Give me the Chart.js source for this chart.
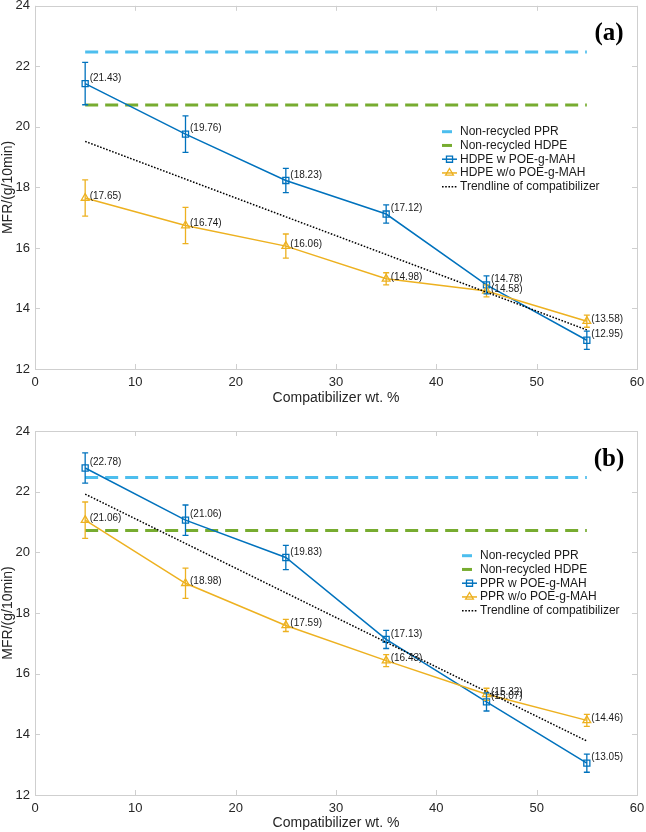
<!DOCTYPE html>
<html><head><meta charset="utf-8">
<script src="https://cdn.jsdelivr.net/npm/chart.js@4.4.1/dist/chart.umd.min.js"></script>
<style>
body{margin:0;background:#fff;}
#wrap{position:relative;width:646px;height:832px;background:#fff;}
canvas{position:absolute;left:0;}
</style>
</head><body>
<div id="wrap">
<canvas id="ca" width="646" height="416" style="top:0"></canvas>
<canvas id="cb" width="646" height="416" style="top:416px"></canvas>
</div>
<script>
// ---- data ----
const compatibilizer = [5, 15, 25, 35, 45, 55];
const refX = [5, 55];
const nonRecycledPPR = [22.47, 22.47];
const nonRecycledHDPE = [20.72, 20.72];

// panel (a)
const hdpeWith = [21.43, 19.76, 18.23, 17.12, 14.78, 12.95];
const hdpeWithErr = [0.7, 0.6, 0.4, 0.3, 0.3, 0.3];
const hdpeWithout = [17.65, 16.74, 16.06, 14.98, 14.58, 13.58];
const hdpeWithoutErr = [0.6, 0.6, 0.4, 0.2, 0.2, 0.2];
const trendA = [19.52, 13.29];

// panel (b)
const pprWith = [22.78, 21.06, 19.83, 17.13, 15.07, 13.05];
const pprWithErr = [0.5, 0.5, 0.4, 0.3, 0.3, 0.3];
const pprWithout = [21.06, 18.98, 17.59, 16.43, 15.32, 14.46];
const pprWithoutErr = [0.6, 0.5, 0.2, 0.2, 0.2, 0.2];
const trendB = [21.92, 13.78];

const xTickValues = [0, 10, 20, 30, 40, 50, 60];
const yTickValues = [12, 14, 16, 18, 20, 22, 24];

// ---- styling ----
const FONT = '"Liberation Sans", Arial, Helvetica, sans-serif';
const TEXT = '#262626';
const AXIS = '#cfcfcf';
const C_PPR = '#4DBEEE', C_HDPE = '#77AC30', C_W = '#0072BD', C_WO = '#EDB120';

Chart.defaults.font.family = FONT;
Chart.defaults.color = TEXT;

function pts(xs, ys) { return xs.map((x, i) => ({ x: x, y: ys[i] })); }

function drawMarker(ctx, style, x, y, r) {
  ctx.beginPath();
  if (style === 'rect') {
    const s = r * Math.SQRT1_2;
    ctx.rect(x - s, y - s, 2 * s, 2 * s);
  } else {
    ctx.moveTo(x, y - r);
    ctx.lineTo(x + r * Math.sin(2 * Math.PI / 3), y + r / 2);
    ctx.lineTo(x - r * Math.sin(2 * Math.PI / 3), y + r / 2);
    ctx.closePath();
  }
  ctx.stroke();
}

function zeroPad(s) { s.paddingTop = 0; s.paddingBottom = 0; s.paddingLeft = 0; s.paddingRight = 0; }

const decor = {
  id: 'decor',
  afterDatasetsDraw(chart, args, o) {
    const ctx = chart.ctx, a = chart.chartArea;
    const xs = chart.scales.x, ys = chart.scales.y;
    // error bars + value labels
    chart.data.datasets.forEach((ds, i) => {
      if (!ds.errors) return;
      const meta = chart.getDatasetMeta(i);
      ctx.save();
      ctx.strokeStyle = ds.borderColor;
      ctx.lineWidth = 1.3;
      meta.data.forEach((p, j) => {
        const v = ds.data[j].y, e = ds.errors[j];
        const y1 = ys.getPixelForValue(v + e), y2 = ys.getPixelForValue(v - e);
        ctx.beginPath();
        ctx.moveTo(p.x, y1); ctx.lineTo(p.x, y2);
        ctx.moveTo(p.x - 3, y1); ctx.lineTo(p.x + 3, y1);
        ctx.moveTo(p.x - 3, y2); ctx.lineTo(p.x + 3, y2);
        ctx.stroke();
      });
      ctx.fillStyle = '#1a1a1a';
      ctx.font = '10px ' + FONT;
      ctx.textBaseline = 'middle';
      ctx.textAlign = 'left';
      meta.data.forEach((p, j) => {
        ctx.fillText('(' + ds.data[j].y.toFixed(2) + ')', p.x + 4.5, p.y + ds.labelDy);
      });
      ctx.restore();
    });
    // box + inside ticks
    ctx.save();
    ctx.strokeStyle = AXIS;
    ctx.lineWidth = 1;
    ctx.strokeRect(Math.round(a.left) + 0.5, Math.round(a.top) + 0.5, Math.round(a.right - a.left), Math.round(a.bottom - a.top));
    ctx.beginPath();
    xTickValues.forEach(v => {
      const px = Math.round(xs.getPixelForValue(v)) + 0.5;
      ctx.moveTo(px, a.bottom); ctx.lineTo(px, a.bottom - 5);
      ctx.moveTo(px, a.top); ctx.lineTo(px, a.top + 5);
    });
    yTickValues.forEach(v => {
      const py = Math.round(ys.getPixelForValue(v)) + 0.5;
      ctx.moveTo(a.left, py); ctx.lineTo(a.left + 5, py);
      ctx.moveTo(a.right, py); ctx.lineTo(a.right - 5, py);
    });
    ctx.stroke();
    ctx.restore();
    // legend
    const L = o.legend;
    ctx.save();
    ctx.font = '12px ' + FONT;
    ctx.textBaseline = 'middle';
    ctx.textAlign = 'left';
    L.items.forEach((it, k) => {
      const y = L.y + k * L.step;
      const x0 = L.x, x1 = L.x + 15;
      ctx.strokeStyle = it.color;
      if (it.kind === 'dash') {
        ctx.lineWidth = 3;
        ctx.beginPath(); ctx.moveTo(x0, y); ctx.lineTo(x0 + 10, y); ctx.stroke();
      } else if (it.kind === 'dot') {
        ctx.lineWidth = 1.5;
        ctx.setLineDash([1.6, 1.6]);
        ctx.beginPath(); ctx.moveTo(x0, y); ctx.lineTo(x1, y); ctx.stroke();
        ctx.setLineDash([]);
      } else {
        ctx.lineWidth = 1.5;
        ctx.beginPath(); ctx.moveTo(x0, y); ctx.lineTo(x1, y); ctx.stroke();
        ctx.lineWidth = 1.3;
        drawMarker(ctx, it.marker, (x0 + x1) / 2, y, it.marker === 'rect' ? 4.3 : 4.5);
      }
      ctx.fillStyle = '#1a1a1a';
      ctx.fillText(it.label, x1 + 3, y);
    });
    // panel tag
    ctx.font = 'bold 25px "Liberation Serif", "Times New Roman", serif';
    ctx.fillStyle = '#000';
    ctx.textAlign = 'center';
    ctx.fillText(o.tag, o.tagX, o.tagY);
    ctx.restore();
  }
};

function makeChart(id, cfg) {
  const datasets = [
    { label: 'Trendline of compatibilizer', data: pts(refX, cfg.trend), borderColor: '#000', borderWidth: 1.5,
      borderDash: [1.6, 1.6], pointRadius: 0, showLine: true, fill: false },
    { label: cfg.woLabel, data: pts(compatibilizer, cfg.wo), errors: cfg.woErr, labelDy: -2,
      borderColor: C_WO, backgroundColor: 'rgba(0,0,0,0)', borderWidth: 1.5, pointStyle: 'triangle',
      pointRadius: 4.5, pointBorderWidth: 1.3, showLine: true, fill: false },
    { label: cfg.wLabel, data: pts(compatibilizer, cfg.w), errors: cfg.wErr, labelDy: -5.5,
      borderColor: C_W, backgroundColor: 'rgba(0,0,0,0)', borderWidth: 1.5, pointStyle: 'rect',
      pointRadius: 4.3, pointBorderWidth: 1.3, showLine: true, fill: false },
    { label: 'Non-recycled HDPE', data: pts(refX, nonRecycledHDPE), borderColor: C_HDPE, borderWidth: 3,
      borderDash: [13, 7], pointRadius: 0, showLine: true, fill: false },
    { label: 'Non-recycled PPR', data: pts(refX, nonRecycledPPR), borderColor: C_PPR, borderWidth: 3,
      borderDash: [13, 7], pointRadius: 0, showLine: true, fill: false }
  ];
  return new Chart(document.getElementById(id), {
    type: 'scatter',
    data: { datasets: datasets },
    plugins: [decor],
    options: {
      responsive: false,
      animation: false,
      devicePixelRatio: 1,
      events: [],
      layout: { padding: { top: cfg.top, right: 9, left: 0, bottom: 0 } },
      plugins: {
        legend: { display: false },
        tooltip: { enabled: false },
        decor: {
          tag: cfg.tag, tagX: 609, tagY: cfg.tagY,
          legend: {
            x: cfg.legX, y: cfg.legY, step: 13.75,
            items: [
              { label: 'Non-recycled PPR', color: C_PPR, kind: 'dash' },
              { label: 'Non-recycled HDPE', color: C_HDPE, kind: 'dash' },
              { label: cfg.wLabel, color: C_W, kind: 'marker', marker: 'rect' },
              { label: cfg.woLabel, color: C_WO, kind: 'marker', marker: 'triangle' },
              { label: 'Trendline of compatibilizer', color: '#000', kind: 'dot' }
            ]
          }
        }
      },
      scales: {
        x: {
          type: 'linear', min: 0, max: 60,
          afterFit: s => { s.height = cfg.xAxisH; zeroPad(s); },
          afterBuildTicks: s => { s.ticks = xTickValues.map(v => ({ value: v })); },
          ticks: { padding: cfg.xTickPad, font: { size: 13 }, color: TEXT, maxRotation: 0 },
          grid: { display: false, drawTicks: false },
          border: { display: false },
          title: { display: true, text: 'Compatibilizer wt. %', font: { size: 14 }, color: TEXT,
                   padding: { top: 0, bottom: cfg.xTitlePad } }
        },
        y: {
          type: 'linear', min: 12, max: 24,
          afterFit: s => { s.width = 35; zeroPad(s); },
          afterBuildTicks: s => { s.ticks = yTickValues.map(v => ({ value: v })); },
          ticks: { padding: 5, font: { size: 13 }, color: TEXT },
          grid: { display: false, drawTicks: false },
          border: { display: false },
          title: { display: true, text: 'MFR/(g/10min)', font: { size: 14 }, color: TEXT,
                   padding: { top: 0, bottom: 0 } }
        }
      }
    }
  });
}

makeChart('ca', {
  w: hdpeWith, wErr: hdpeWithErr, wo: hdpeWithout, woErr: hdpeWithoutErr, trend: trendA,
  wLabel: 'HDPE w POE-g-MAH', woLabel: 'HDPE w/o POE-g-MAH',
  top: 5, xAxisH: 47, xTickPad: 6, xTitlePad: 9,
  tag: '(a)', tagY: 34, legX: 442, legY: 131.7
});
makeChart('cb', {
  w: pprWith, wErr: pprWithErr, wo: pprWithout, woErr: pprWithoutErr, trend: trendB,
  wLabel: 'PPR w POE-g-MAH', woLabel: 'PPR w/o POE-g-MAH',
  top: 15, xAxisH: 37, xTickPad: 6, xTitlePad: 0,
  tag: '(b)', tagY: 44, legX: 462, legY: 139.7
});
</script>
</body></html>
